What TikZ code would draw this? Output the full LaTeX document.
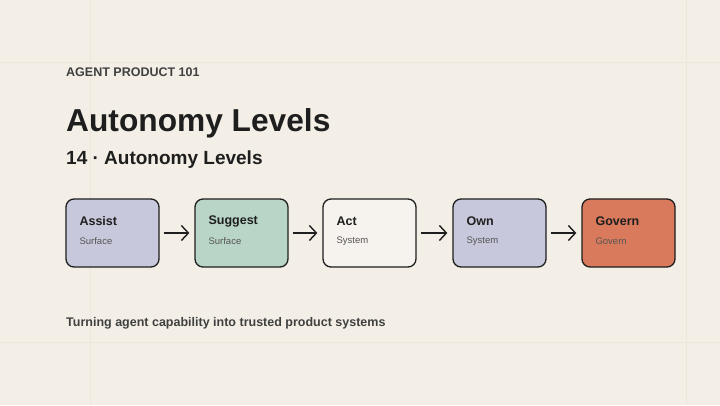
\documentclass[tikz,border=0pt]{standalone}
\usepackage{fontspec}
\setmainfont{Liberation Sans}
\usetikzlibrary{positioning,arrows.meta}
\definecolor{bgpaper}{HTML}{F3EFE7}
\definecolor{gridln}{HTML}{ECE6DC}
\definecolor{inkdark}{HTML}{1E1E1E}
\definecolor{inkgray}{HTML}{555555}
\definecolor{fillassist}{HTML}{C8C8DC}
\definecolor{fillsuggest}{HTML}{B9D5C7}
\definecolor{fillact}{HTML}{F6F3EE}
\definecolor{fillgovern}{HTML}{D97A5C}
\tikzset{
  level/.style={draw=inkdark, line width=1.3pt, rounded corners=8pt,
    minimum width=93pt, minimum height=68pt, inner sep=0pt},
  ttl/.style={anchor=west, inner sep=0pt, font=\bfseries\fontsize{12.5}{14}\selectfont, text=inkdark},
  sub/.style={anchor=west, inner sep=0pt, font=\fontsize{9.5}{11}\selectfont, text=inkgray},
  advance/.style={-{Straight Barb[length=7pt,width=15pt]}, line width=1.4pt, draw=inkdark, shorten <=4pt, shorten >=5pt}
}
\begin{document}
\begin{tikzpicture}[x=1pt,y=-1pt]
  \fill[bgpaper] (0,0) rectangle (720,405);
  \useasboundingbox (0,0) rectangle (720,405);
  % faint guide lines
  \draw[gridln, line width=0.5pt] (90,0) -- (90,405) (686,0) -- (686,405)
    (0,62) -- (720,62) (0,342) -- (720,342);

  \node[anchor=base west, inner sep=0pt, font=\bfseries\fontsize{12.5}{15}\selectfont, text=inkdark!85] (kicker) at (66,76) {AGENT PRODUCT 101};
  \node[anchor=base west, inner sep=0pt, font=\bfseries\fontsize{31.7}{36}\selectfont, text=inkdark] (title) at (66,131) {Autonomy Levels};
  \node[anchor=base west, inner sep=0pt, font=\bfseries\fontsize{19}{22}\selectfont, text=inkdark] (subtitle) at (66,164) {14 · Autonomy Levels};

  \foreach \name/\x/\col/\head/\kind in {assist/112.5/fillassist/Assist/Surface,
      suggest/241.5/fillsuggest/Suggest/Surface, act/369.5/fillact/Act/System,
      own/499.5/fillassist/Own/System, govern/628.5/fillgovern/Govern/Govern}
  {
    \node[level, fill=\col] (\name) at (\x,233) {};
    \node[ttl] (\name-t) at ([xshift=14pt,yshift=12pt]\name.west) {\head};
    \node[sub, yshift=-20pt] (\name-s) at (\name-t.west) {\kind};
  }

  \draw[advance] (assist) -- (suggest);
  \draw[advance] (suggest) -- (act);
  \draw[advance] (act) -- (own);
  \draw[advance] (own) -- (govern);

  \node[anchor=base west, inner sep=0pt, font=\bfseries\fontsize{12.5}{15}\selectfont, text=inkdark!85] (footer) at (66,326) {Turning agent capability into trusted product systems};
\end{tikzpicture}
\end{document}
